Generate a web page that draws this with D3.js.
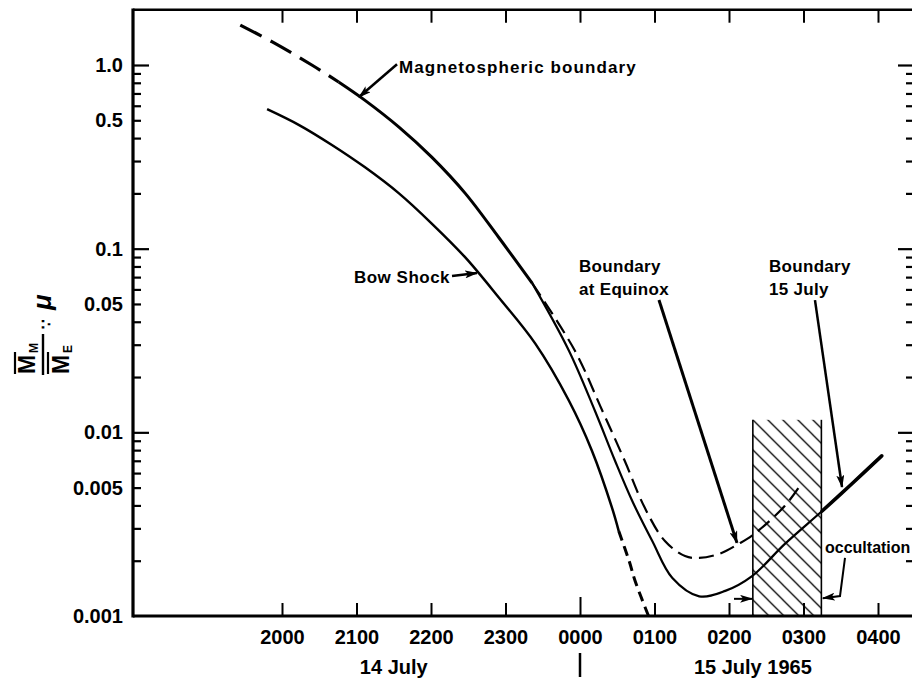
<!DOCTYPE html>
<html>
<head>
<meta charset="utf-8">
<script src="https://cdn.jsdelivr.net/npm/d3@7"></script>
<style>
  body { margin: 0; background: #fff; }
  text { font-family: "Liberation Sans", Arial, sans-serif; font-weight: bold; fill: #000; }
</style>
</head>
<body>
<svg id="chart" width="912" height="679"></svg>
<script>
// Time is in hours relative to 0000 UT, 15 July 1965 (negative values = 14 July).
const hourTicks  = [-4, -3, -2, -1, 0, 1, 2, 3, 4];
const hourLabels = ["2000", "2100", "2200", "2300", "0000", "0100", "0200", "0300", "0400"];

const yTickValues = [1, 0.5, 0.1, 0.05, 0.01, 0.005, 0.001];
const yTickLabels = ["1.0", "0.5", "0.1", "0.05", "0.01", "0.005", "0.001"];

// Magnetospheric boundary: common trunk (first points drawn dashed)
const magTrunkT = [-4.56, -4.13, -3.60, -3.24, -2.89, -2.43, -1.99, -1.54, -1.09, -0.64];
const magTrunkV = [1.65, 1.335, 1.0, 0.808, 0.644, 0.459, 0.315, 0.200, 0.115, 0.0647];
const magDashedUntil = 3;

// Boundary for 15 July (solid branch)
const julyT = [-0.64, -0.15, 0.20, 0.47, 0.70, 0.97, 1.24, 1.60, 1.95, 2.31, 2.75, 3.25, 3.65, 4.05];
const julyV = [0.0647, 0.0279, 0.0131, 0.0070, 0.00424, 0.00256, 0.00161, 0.00128, 0.00137, 0.00165, 0.00247, 0.00373, 0.00525, 0.00745];

// Boundary at equinox (dashed branch)
const equinoxT = [-0.64, -0.07, 0.30, 0.60, 0.87, 1.14, 1.41, 1.60, 1.87, 2.13, 2.34, 2.75, 2.95];
const equinoxV = [0.0647, 0.0279, 0.0131, 0.0070, 0.00388, 0.00256, 0.00212, 0.00207, 0.00218, 0.00247, 0.00280, 0.00398, 0.00511];

// Bow shock, solid part and dashed extrapolation
const bowT = [-4.20, -3.77, -3.33, -2.89, -2.43, -1.99, -1.54, -1.09, -0.60, -0.15, 0.16, 0.43, 0.52];
const bowV = [0.575, 0.471, 0.367, 0.278, 0.200, 0.137, 0.0896, 0.0542, 0.0304, 0.0149, 0.00794, 0.00388, 0.00290];
const bowExtT = [0.52, 0.66, 0.74, 0.92];
const bowExtV = [0.00290, 0.00199, 0.00155, 0.0010];

// Occultation interval
const occStart = 2.32, occEnd = 3.24, occTop = 0.0117;

const svg = d3.select("#chart");
const plotLeft = 133, plotRight = 913;
const yMax = 2;

const x = d3.scaleLinear().domain([-4, 4]).range([282, 878]);
const y = d3.scaleLog().domain([0.001, 1]).range([616, 65]);
const P = (t, v) => [x(t), y(v)];
const zip = (ts, vs) => ts.map((t, i) => [t, vs[i]]);

const line = d3.line().x(d => x(d[0])).y(d => y(d[1])).curve(d3.curveCatmullRom.alpha(0.5));

const defs = svg.append("defs");
defs.append("marker").attr("id", "ah")
  .attr("viewBox", "0 0 13 8").attr("refX", 12).attr("refY", 4)
  .attr("markerWidth", 13).attr("markerHeight", 8)
  .attr("markerUnits", "userSpaceOnUse").attr("orient", "auto")
  .append("path").attr("d", "M0,0L13,4L0,8L3,4Z").attr("fill", "#000");

// ---- occultation box with hatching
const bx0 = x(occStart), bx1 = x(occEnd), by0 = y(occTop), by1 = y(0.001);
defs.append("pattern").attr("id", "hatch")
  .attr("patternUnits", "userSpaceOnUse")
  .attr("width", 15).attr("height", 15).attr("x", bx0).attr("y", by0)
  .append("path").attr("d", "M0,0L15,15M-4,11L4,19M11,-4L19,4")
  .attr("stroke", "#000").attr("stroke-width", 1.3);
svg.append("rect").attr("x", bx0).attr("y", by0)
  .attr("width", bx1 - bx0).attr("height", by1 - by0).attr("fill", "url(#hatch)");
[bx0, bx1].forEach(bx => svg.append("line")
  .attr("x1", bx).attr("x2", bx).attr("y1", by0).attr("y2", by1)
  .attr("stroke", "#000").attr("stroke-width", 1.6));

// ---- frame
const frame = svg.append("g").attr("stroke", "#000");
frame.append("line").attr("x1", plotLeft).attr("x2", plotRight).attr("y1", y(yMax)).attr("y2", y(yMax)).attr("stroke-width", 2.5);
frame.append("line").attr("x1", plotLeft).attr("x2", plotRight).attr("y1", y(0.001)).attr("y2", y(0.001)).attr("stroke-width", 3);
frame.append("line").attr("x1", plotLeft).attr("x2", plotLeft).attr("y1", y(yMax) - 1.2).attr("y2", y(0.001) + 1.5).attr("stroke-width", 3.2);

// ---- axes
const majorY = [1, 0.1, 0.01];
const minorY = [];
[0.1, 0.01, 0.001].forEach(b => d3.range(2, 10).forEach(k => minorY.push(+(k * b).toPrecision(2))));
const allY = majorY.concat(minorY);

const leftAxis = svg.append("g").attr("transform", `translate(${plotLeft},0)`)
  .call(d3.axisLeft(y).tickValues(allY.concat([0.001])).tickSize(-8).tickPadding(10)
    .tickFormat(d => { const i = yTickValues.indexOf(d); return i >= 0 ? yTickLabels[i] : ""; }));
leftAxis.select(".domain").remove();
leftAxis.selectAll(".tick line").attr("x2", d => d === 0.001 ? 0 : (majorY.includes(d) ? 16 : 8)).attr("stroke-width", 2.2);
leftAxis.selectAll(".tick text").attr("font-size", 20).attr("font-family", "Liberation Sans, Arial, sans-serif");

const rightAxis = svg.append("g").attr("transform", `translate(${plotRight - 1},0)`)
  .call(d3.axisRight(y).tickValues(allY).tickSize(-6).tickFormat(""));
rightAxis.select(".domain").remove();
rightAxis.selectAll(".tick line").attr("x2", d => majorY.includes(d) ? -14 : -6).attr("stroke-width", 2.2);

const topAxis = svg.append("g").attr("transform", `translate(0,${y(yMax)})`)
  .call(d3.axisTop(x).tickValues(hourTicks).tickSize(-13).tickFormat(""));
topAxis.select(".domain").remove();
topAxis.selectAll(".tick line").attr("stroke-width", 2);

const bottomAxis = svg.append("g").attr("transform", `translate(0,${y(0.001)})`)
  .call(d3.axisBottom(x).tickValues(hourTicks).tickSize(-13).tickPadding(14).tickFormat((d, i) => hourLabels[i]));
bottomAxis.select(".domain").remove();
bottomAxis.selectAll(".tick line").attr("y2", d => d === 0 ? -19 : -13).attr("stroke-width", 2);
bottomAxis.selectAll(".tick text").attr("font-size", 20).attr("font-family", "Liberation Sans, Arial, sans-serif");

// date labels under the time axis
svg.append("text").attr("x", x(-2.5)).attr("y", 674).attr("text-anchor", "middle").attr("font-size", 20).text("14 July");
svg.append("text").attr("x", x(2.32)).attr("y", 674).attr("text-anchor", "middle").attr("font-size", 20).text("15 July 1965");
svg.append("line").attr("x1", x(0)).attr("x2", x(0)).attr("y1", 653).attr("y2", 677).attr("stroke", "#000").attr("stroke-width", 2.5);

// ---- y axis title: (M̄_M / M̄_E) ∵ μ
const yt = svg.append("g").attr("transform", "translate(42,332) rotate(-90)");
yt.append("text").attr("x", -42).attr("y", -7).attr("font-size", 23).text("M");
yt.append("text").attr("x", -21).attr("y", -4).attr("font-size", 12).text("M");
yt.append("line").attr("x1", -42).attr("x2", -20).attr("y1", -27).attr("y2", -27).attr("stroke", "#000").attr("stroke-width", 2.2);
yt.append("line").attr("x1", -43).attr("x2", -2).attr("y1", 1).attr("y2", 1).attr("stroke", "#000").attr("stroke-width", 2.4);
yt.append("text").attr("x", -42).attr("y", 27).attr("font-size", 23).text("M");
yt.append("text").attr("x", -21).attr("y", 30).attr("font-size", 12).text("E");
yt.append("line").attr("x1", -42).attr("x2", -20).attr("y1", 6).attr("y2", 6).attr("stroke", "#000").attr("stroke-width", 2.2);
yt.append("text").attr("x", 3).attr("y", 9).attr("font-size", 15).text("∵");
yt.append("text").attr("x", 22).attr("y", 9).attr("font-size", 26).attr("font-style", "italic").text("μ");

// ---- curves
const magPts = zip(magTrunkT, magTrunkV);
svg.append("path").attr("d", line(magPts.slice(0, magDashedUntil + 1)))
  .attr("fill", "none").attr("stroke", "#000").attr("stroke-width", 3.2).attr("stroke-dasharray", "24,10");
svg.append("path").attr("d", line(magPts.slice(magDashedUntil)))
  .attr("fill", "none").attr("stroke", "#000").attr("stroke-width", 3);

const julyPts = zip(julyT, julyV);
svg.append("path").attr("d", line(julyPts))
  .attr("fill", "none").attr("stroke", "#000").attr("stroke-width", 2.2);
svg.append("path").attr("d", line(julyPts.slice(-3)))
  .attr("fill", "none").attr("stroke", "#000").attr("stroke-width", 3.6).attr("stroke-linecap", "round");

svg.append("path").attr("d", line(zip(equinoxT, equinoxV)))
  .attr("fill", "none").attr("stroke", "#000").attr("stroke-width", 2.2).attr("stroke-dasharray", "15,7");

svg.append("path").attr("d", line(zip(bowT, bowV)))
  .attr("fill", "none").attr("stroke", "#000").attr("stroke-width", 2.5);
svg.append("path").attr("d", line(zip(bowExtT, bowExtV)))
  .attr("fill", "none").attr("stroke", "#000").attr("stroke-width", 3).attr("stroke-dasharray", "10,6");

// ---- annotations
const arrow = (pts, w) => svg.append("path")
  .attr("d", d3.line()(pts.map(p => P(p[0], p[1]))))
  .attr("fill", "none").attr("stroke", "#000").attr("stroke-width", w).attr("marker-end", "url(#ah)");

const label = (t, v, s, size, ls) => svg.append("text")
  .attr("x", x(t)).attr("y", y(v)).attr("font-size", size).attr("letter-spacing", ls).text(s);

label(-2.43, 0.905, "Magnetospheric boundary", 17, 1.1);
arrow([[-2.456, 1.01], [-2.966, 0.669]], 2.5);

label(-3.034, 0.0650, "Bow Shock", 17, 0.5);
arrow([[-1.718, 0.0710], [-1.383, 0.0737]], 2.5);

label(-0.013, 0.0746, "Boundary", 17, 0.3);
label(-0.013, 0.0560, "at Equinox", 17, 0.3);
arrow([[1.06, 0.0525], [2.107, 0.0025]], 3);

label(2.537, 0.0746, "Boundary", 17, 0.3);
label(2.537, 0.0560, "15 July", 17, 0.3);
arrow([[3.154, 0.0525], [3.517, 0.00504]], 2.5);

label(3.289, 0.0022, "occultation", 16, 0);
arrow([[3.557, 0.00207], [3.49, 0.001285], [occEnd + 0.02, 0.00125]], 2);
arrow([[2.067, 0.00124], [occStart - 0.01, 0.00124]], 2);
</script>
</body>
</html>
